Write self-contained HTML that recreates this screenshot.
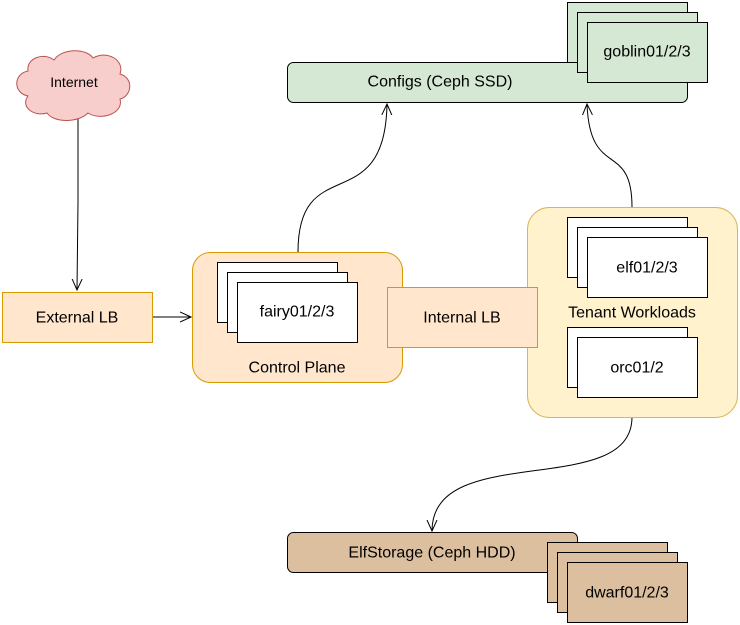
<!DOCTYPE html>
<html><head><meta charset="utf-8"><style>
html,body{margin:0;padding:0;background:#fff;width:740px;height:625px;overflow:hidden}
svg text{font-family:"Liberation Sans",sans-serif;font-size:16px;fill:#000;text-anchor:middle;dominant-baseline:central}
</style></head><body>
<svg width="740" height="625" viewBox="0 0 740 625" xmlns="http://www.w3.org/2000/svg">
<defs><marker id="a" viewBox="0 0 12 12" refX="11" refY="6" markerWidth="12" markerHeight="12" markerUnits="userSpaceOnUse" orient="auto"><path d="M0,1 L11,6 L0,11" fill="none" stroke="#000" stroke-width="1"/></marker></defs>
<g fill="none" stroke="#000" stroke-width="1">
<path d="M78,118 L78,202 L77,290" marker-end="url(#a)"/>
<path d="M152,317 L191,317" marker-end="url(#a)"/>
<path d="M298,252 C298,150 385,220 387,104" marker-end="url(#a)"/>
<path d="M632,207 C632,140 590,180 587,104" marker-end="url(#a)"/>
<path d="M632,417 C632,500 432,440 432,531" marker-end="url(#a)"/>
</g>
<path d="M28,96 C13,93 13,74 28,71 C26,58 44,52 54,60 C62,48 86,48 93,58 C107,50 125,60 120,74 C134,78 132,96 120,99 C124,114 100,121 88,113 C78,123 54,123 47,113 C34,117 20,107 28,96 Z" fill="#f8cecc" stroke="#b85450"/>
<text x="74" y="82" style="font-size:14px">Internet</text>
<rect x="287.5" y="62.5" width="400" height="40" rx="6" fill="#d5e8d4" stroke="#000"/>
<text x="440" y="82">Configs (Ceph SSD)</text>
<rect x="567.5" y="2.5" width="120" height="60" fill="#d5e8d4" stroke="#000"/>
<rect x="577.5" y="12.5" width="120" height="60" fill="#d5e8d4" stroke="#000"/>
<rect x="587.5" y="22.5" width="120" height="60" fill="#d5e8d4" stroke="#000"/>
<text x="647" y="52">goblin01/2/3</text>
<rect x="2.5" y="292.5" width="150" height="50" fill="#ffe6cc" stroke="#d79b00"/>
<text x="77" y="318">External LB</text>
<rect x="192.5" y="252.5" width="210" height="130" rx="18" fill="#ffe6cc" stroke="#d79b00"/>
<rect x="217.5" y="262.5" width="120" height="60" fill="#fff" stroke="#000"/>
<rect x="227.5" y="272.5" width="120" height="60" fill="#fff" stroke="#000"/>
<rect x="237.5" y="282.5" width="120" height="60" fill="#fff" stroke="#000"/>
<text x="297" y="312">fairy01/2/3</text>
<text x="297" y="368">Control Plane</text>
<rect x="527.5" y="207.5" width="210" height="210" rx="22" fill="#fff2cc" stroke="#d6b656"/>
<rect x="567.5" y="217.5" width="120" height="60" fill="#fff" stroke="#000"/>
<rect x="577.5" y="227.5" width="120" height="60" fill="#fff" stroke="#000"/>
<rect x="587.5" y="237.5" width="120" height="60" fill="#fff" stroke="#000"/>
<text x="647" y="268">elf01/2/3</text>
<text x="632" y="313">Tenant Workloads</text>
<rect x="567.5" y="327.5" width="120" height="60" fill="#fff" stroke="#000"/>
<rect x="577.5" y="337.5" width="120" height="60" fill="#fff" stroke="#000"/>
<text x="637" y="368">orc01/2</text>
<rect x="387.5" y="287.5" width="150" height="60" fill="#ffe6cc" stroke="#d79b00"/>
<text x="462" y="318">Internal LB</text>
<rect x="287.5" y="532.5" width="290" height="40" rx="6" fill="#dcbf9f" stroke="#000"/>
<text x="432" y="553">ElfStorage (Ceph HDD)</text>
<rect x="547.5" y="542.5" width="120" height="60" fill="#dcbf9f" stroke="#000"/>
<rect x="557.5" y="552.5" width="120" height="60" fill="#dcbf9f" stroke="#000"/>
<rect x="567.5" y="562.5" width="120" height="60" fill="#dcbf9f" stroke="#000"/>
<text x="627" y="593">dwarf01/2/3</text>
</svg>
</body></html>
